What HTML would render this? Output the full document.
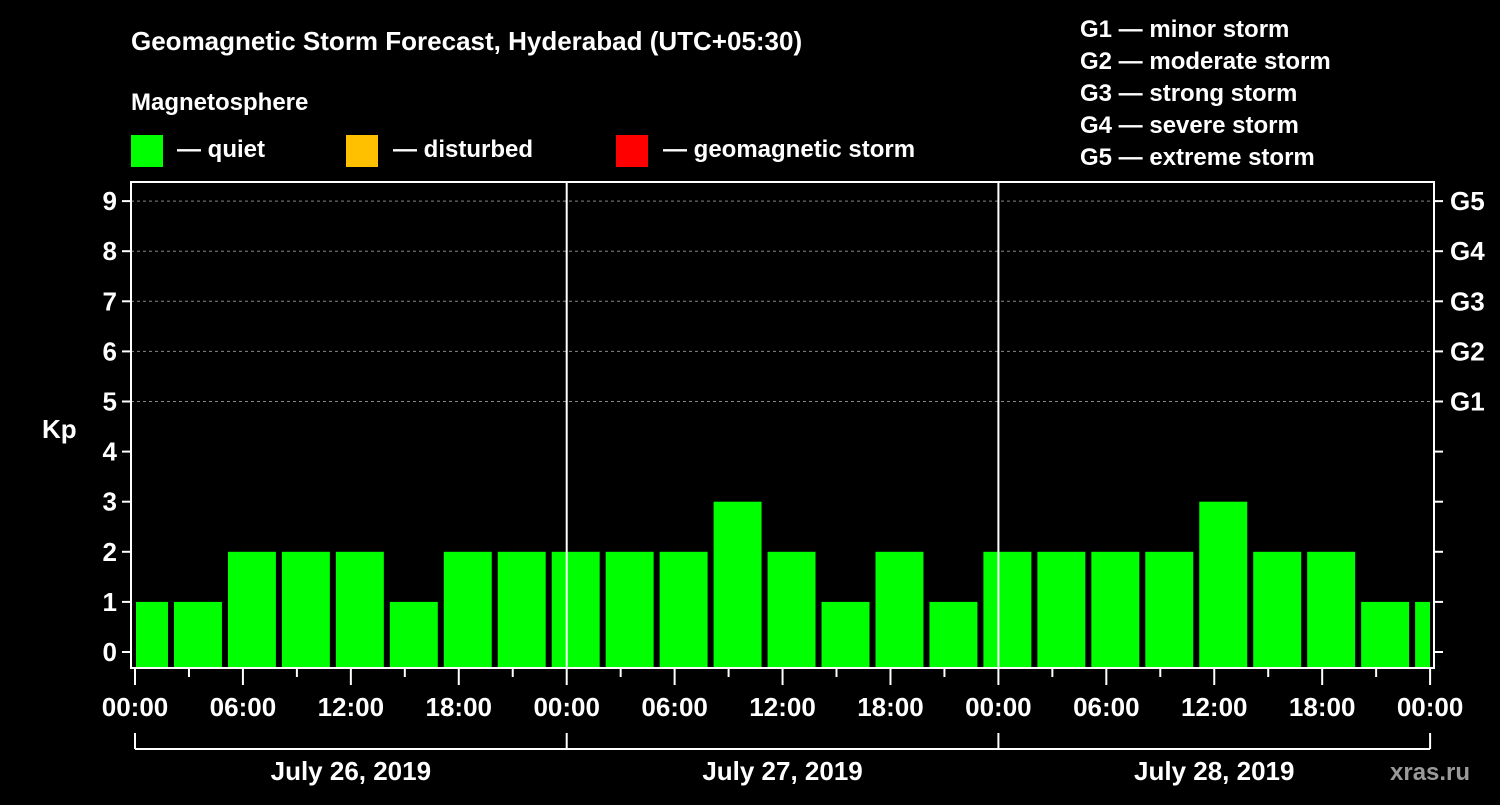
<!DOCTYPE html>
<html><head><meta charset="utf-8"><style>
body{margin:0;background:#000;width:1500px;height:800px;overflow:hidden;font-family:"Liberation Sans",sans-serif;}
svg text{font-family:"Liberation Sans",sans-serif;font-weight:bold;fill:#fff;}
</style></head><body>
<svg id="chart" width="1500" height="800" viewBox="0 0 1500 800">
<text x="131" y="50" font-size="26">Geomagnetic Storm Forecast, Hyderabad (UTC+05:30)</text>
<text x="131" y="110" font-size="24">Magnetosphere</text>
<g>
<rect x="131" y="135" width="32" height="32" fill="#00ff00"/>
<text x="177" y="157" font-size="24">— quiet</text>
<rect x="346" y="135" width="32" height="32" fill="#ffc000"/>
<text x="393" y="157" font-size="24">— disturbed</text>
<rect x="616" y="135" width="32" height="32" fill="#ff0000"/>
<text x="663" y="157" font-size="24">— geomagnetic storm</text>
</g>
<g font-size="24">
<text x="1080" y="37">G1 — minor storm</text>
<text x="1080" y="69">G2 — moderate storm</text>
<text x="1080" y="101">G3 — strong storm</text>
<text x="1080" y="133">G4 — severe storm</text>
<text x="1080" y="165">G5 — extreme storm</text>
</g>
<text x="42" y="438" font-size="26">Kp</text>
<text x="1390" y="780" font-size="24" fill="#aaa" style="fill:#9a9a9a">xras.ru</text>
<g id="grid"></g><g id="bars"></g><g id="axes"></g>
</svg>
<script>
const kpValues=[1,1,2,2,2,1,2,2,2,2,2,3,2,1,2,1,2,2,2,2,3,2,2,1,1];
const yTicks=[0,1,2,3,4,5,6,7,8,9];
const gLabels=["G1","G2","G3","G4","G5"];
const xTickLabels=["00:00","06:00","12:00","18:00","00:00","06:00","12:00","18:00","00:00","06:00","12:00","18:00","00:00"];
const dayLabels=["July 26, 2019","July 27, 2019","July 28, 2019"];
const NS="http://www.w3.org/2000/svg";
const L=131,R=1434,T=182,B=668,X0=135,DAYW=431.7;
const y=k=>652-50.1*k;
const xh=h=>X0+h*DAYW/24;
function mk(t,a,p){const e=document.createElementNS(NS,t);for(const k in a)e.setAttribute(k,a[k]);(p||document.getElementById('axes')).appendChild(e);return e;}
const grid=document.getElementById('grid'),bars=document.getElementById('bars');
yTicks.forEach(k=>{if(k>=5){const l=mk('line',{x1:L,x2:R,y1:y(k),y2:y(k),stroke:'#888','stroke-dasharray':'3,3','stroke-width':1},grid);}});
// bars: 3-hour slots starting at 02:00 local offset, first is partial
const firstBoundary=2;
kpValues.forEach((v,i)=>{
 let s=i==0?0:firstBoundary+3*(i-1), e=firstBoundary+3*i;
 let x1=i==0?xh(0)+1:xh(s)+3, x2=Math.min(xh(e)-3,R-4);
 const col=v>=5?'#ff0000':(v>=4?'#ffc000':'#00ff00');
 const r=mk('rect',{x:x1,y:y(v),width:x2-x1,height:B-y(v),fill:col},bars);
 
 
});
[1,2].forEach(d=>{const l=mk('line',{x1:xh(24*d),x2:xh(24*d),y1:T,y2:B,stroke:'#fff','stroke-width':2});});
const f=mk('rect',{x:L,y:T,width:R-L,height:B-T,fill:'none',stroke:'#fff','stroke-width':2});

yTicks.forEach(k=>{
 mk('line',{x1:L-9,x2:L,y1:y(k),y2:y(k),stroke:'#fff','stroke-width':2});
 mk('line',{x1:R,x2:R+9,y1:y(k),y2:y(k),stroke:'#fff','stroke-width':2});
 const t=mk('text',{x:L-14,y:y(k)+9,'font-size':26,'text-anchor':'end'});t.textContent=k;
 
 if(k>=5){const g=mk('text',{x:R+16,y:y(k)+9,'font-size':26});g.textContent=gLabels[k-5];
 }
});
for(let h=0;h<=72;h+=3){const maj=h%6==0;mk('line',{x1:xh(h),x2:xh(h),y1:B,y2:B+(maj?17:9),stroke:'#fff','stroke-width':2});}
xTickLabels.forEach((s,i)=>{const t=mk('text',{x:xh(i*6),y:716,'font-size':26,'text-anchor':'middle'});t.textContent=s;
 });
mk('line',{x1:xh(0),x2:xh(72),y1:749,y2:749,stroke:'#fff','stroke-width':2});
for(let d=0;d<=3;d++)mk('line',{x1:xh(24*d),x2:xh(24*d),y1:733,y2:749,stroke:'#fff','stroke-width':2});
dayLabels.forEach((s,i)=>{const t=mk('text',{x:xh(24*i+12),y:780,'font-size':26,'text-anchor':'middle'});t.textContent=s;
 });
</script>
</body></html>
